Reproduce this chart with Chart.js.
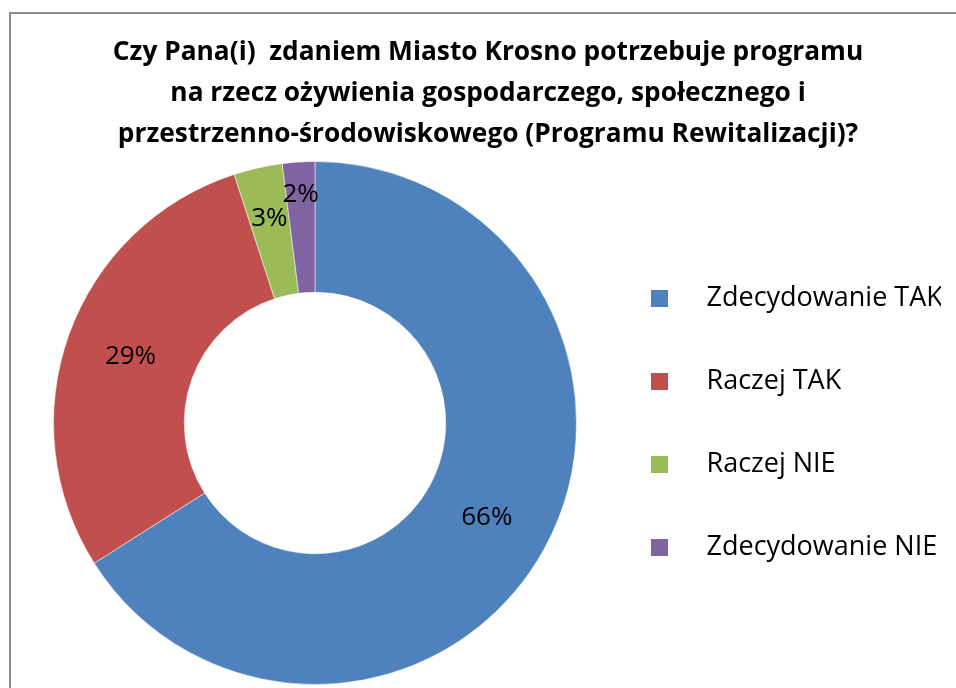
<!DOCTYPE html>
<html>
<head>
<meta charset="UTF-8">
<title>Program Rewitalizacji</title>
<script src="https://cdn.jsdelivr.net/npm/chart.js@4.4.1/dist/chart.umd.min.js"></script>
<style>
    html, body { margin: 0; padding: 0; background: #fff; overflow: hidden; }
    #frame { position: absolute; left: 9px; top: 12px; width: 1000px; height: 1000px; border: 2px solid #8c8c8c; }
    #holder { position: absolute; left: 0; top: 0; width: 956px; height: 688px; }
</style>
</head>
<body>
<div id="frame"></div>
<div id="holder"><canvas id="chart-area"></canvas></div>

<script>
    var titleLines = [
        'Czy Pana(i)  zdaniem Miasto Krosno potrzebuje programu',
        'na rzecz ożywienia gospodarczego, społecznego i',
        'przestrzenno-środowiskowego (Programu Rewitalizacji)?'
    ];
    var categories = ['Zdecydowanie TAK', 'Raczej TAK', 'Raczej NIE', 'Zdecydowanie NIE'];
    var values = [66, 29, 3, 2];
    var colors = ['#4F81BD', '#C0504D', '#9BBB59', '#8064A2'];

    // legend marker: square on the left of a wider canvas, so text sits further away
    function makeMarker(color) {
        var c = document.createElement('canvas');
        c.width = 42;
        c.height = 17;
        var g = c.getContext('2d');
        g.fillStyle = color;
        g.fillRect(0, 0, 17, 17);
        return c;
    }

    var sliceLabels = {
        id: 'sliceLabels',
        afterDatasetsDraw: function(chart, args, opts) {
            var ctx = chart.ctx;
            var meta = chart.getDatasetMeta(0);
            ctx.save();
            ctx.font = '26px "Open Sans"';
            ctx.fillStyle = '#000';
            ctx.textAlign = 'center';
            ctx.textBaseline = 'middle';
            meta.data.forEach(function(arc, i) {
                var p = arc.getProps(['x', 'y', 'startAngle', 'endAngle', 'innerRadius', 'outerRadius'], true);
                var a = (p.startAngle + p.endAngle) / 2;
                var f = opts.radial[i];
                var r = p.innerRadius + f * (p.outerRadius - p.innerRadius);
                ctx.fillText(values[i] + '%', p.x + Math.cos(a) * r, p.y + Math.sin(a) * r);
            });
            ctx.restore();
        }
    };

    var config = {
        type: 'doughnut',
        data: {
            labels: categories,
            datasets: [{
                data: values,
                backgroundColor: colors,
                borderColor: 'rgba(255,255,255,0.5)',
                borderWidth: 1
            }]
        },
        options: {
            responsive: true,
            maintainAspectRatio: false,
            animation: false,
            cutout: '50%',
            layout: {
                padding: { left: 35, right: 15, top: 0, bottom: 3 }
            },
            plugins: {
                title: {
                    display: true,
                    text: titleLines,
                    color: '#000',
                    font: { family: 'Open Sans', size: 26.3, weight: 'bold', lineHeight: 1.56 },
                    padding: { top: 32, bottom: 6 }
                },
                legend: {
                    position: 'right',
                    fullSize: false,
                    maxWidth: 346,
                    labels: {
                        color: '#000',
                        font: { family: 'Open Sans', size: 27 },
                        padding: 56,
                        usePointStyle: true,
                        pointStyleWidth: 42,
                        generateLabels: function(chart) {
                            var items = Chart.overrides.doughnut.plugins.legend.labels.generateLabels(chart);
                            items.forEach(function(it, i) {
                                it.pointStyle = makeMarker(colors[i]);
                            });
                            return items;
                        }
                    }
                },
                tooltip: { enabled: false },
                sliceLabels: { radial: [0.5, 0.5, 0.6, 0.75] }
            }
        },
        plugins: [sliceLabels]
    };

    window.onload = function() {
        var ctx = document.getElementById('chart-area').getContext('2d');
        window.myDoughnut = new Chart(ctx, config);
    };
</script>
</body>
</html>
